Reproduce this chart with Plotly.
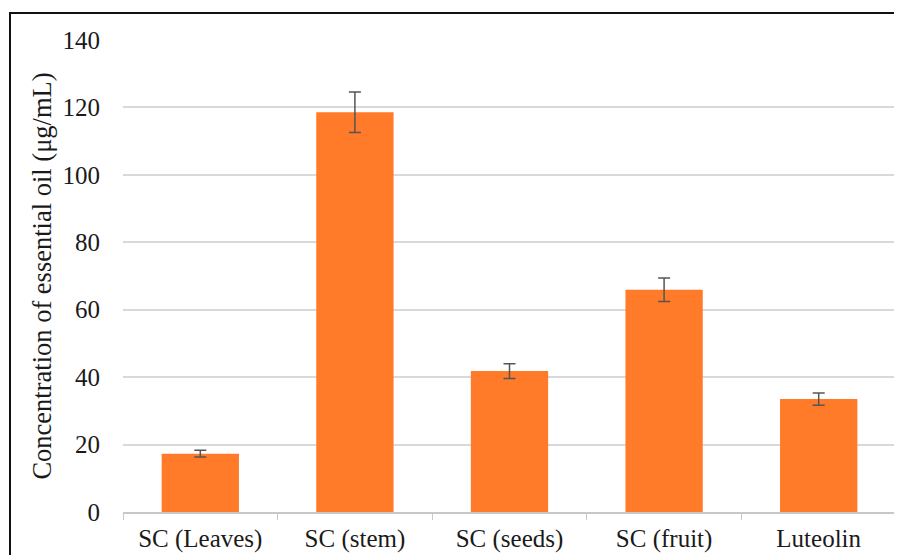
import plotly.graph_objects as go

categories = ["SC (Leaves)", "SC (stem)", "SC (seeds)", "SC (fruit)", "Luteolin"]
values = [17.3, 118.6, 41.8, 65.9, 33.5]
errors = [1.0, 6.0, 2.2, 3.5, 1.8]
y_ticks = [0, 20, 40, 60, 80, 100, 120, 140]

W, H = 894, 547
L, R, T, B = 115, 6, 32, 43
pw, ph = W - L - R, H - T - B

fig = go.Figure()
fig.add_trace(go.Bar(
    x=categories, y=values,
    marker=dict(color="#FF7A29", line=dict(width=0)),
    error_y=dict(type="data", array=errors, visible=True, color="#555555", thickness=1.5, width=6),
    width=0.5,
))

font = "Liberation Serif"
fig.update_layout(
    width=W, height=H,
    margin=dict(l=L, r=R, t=T, b=B, autoexpand=False),
    plot_bgcolor="white", paper_bgcolor="white",
    showlegend=False,
    font=dict(family=font, color="#1a1a1a", size=25),
    xaxis=dict(
        automargin=False,
        showline=True, linecolor="#C8C8C8", linewidth=1.5,
        ticks="outside", tickson="boundaries", ticklen=6, tickcolor="#C8C8C8",
        tickfont=dict(size=25, family=font, color="#1a1a1a"),
        ticklabelstandoff=3,
        showgrid=False,
    ),
    yaxis=dict(
        automargin=False,
        range=[0, 140], tickvals=y_ticks,
        showgrid=True, gridcolor="#D9D9D9", gridwidth=1.5,
        zeroline=False, showline=False,
        tickfont=dict(size=25, family=font, color="#1a1a1a"),
        ticks="", ticklabelstandoff=22,
        title=dict(text="Concentration of essential oil (μg/mL)", font=dict(size=26.5, family=font, color="#1a1a1a"), standoff=3),
    ),
    shapes=[dict(
        type="rect", xref="paper", yref="paper",
        x0=(2 - L) / pw, x1=(910 - L) / pw,
        y0=(H - B - 565) / ph, y1=(H - B - 5) / ph,
        line=dict(color="#111111", width=2), fillcolor="rgba(0,0,0,0)", layer="above",
    )],
)

fig.write_html("out.html")
